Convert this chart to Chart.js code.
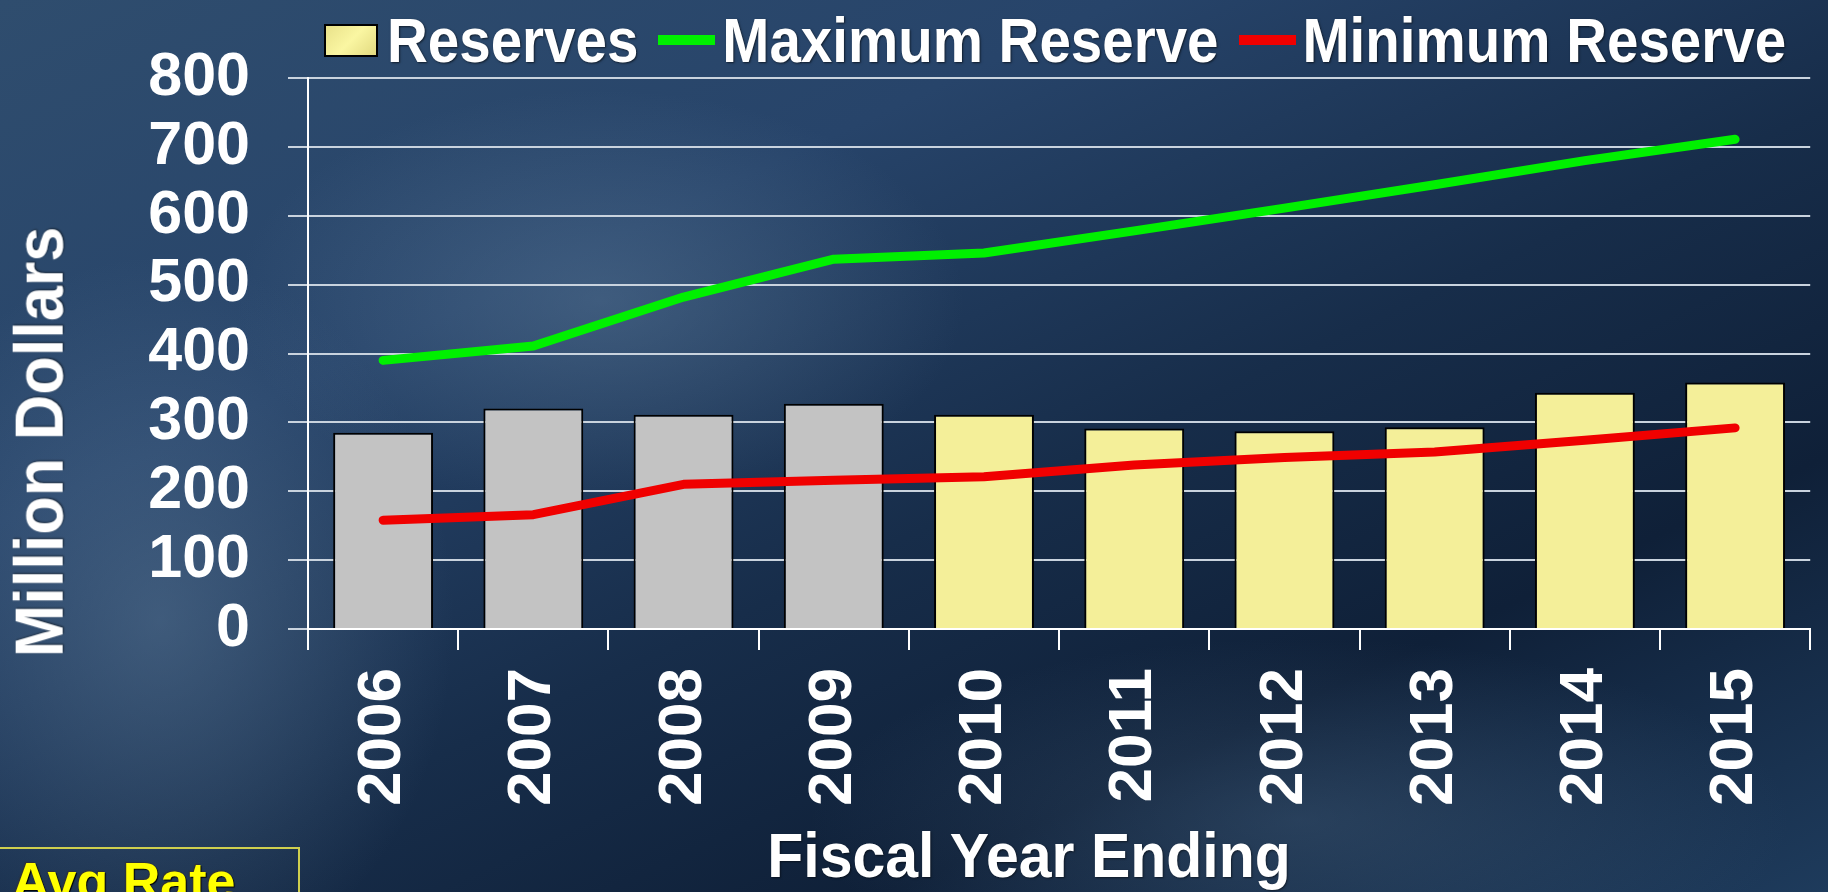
<!DOCTYPE html>
<html>
<head>
<meta charset="utf-8">
<script src="https://cdn.jsdelivr.net/npm/chart.js@4"></script>
<style>
  html, body { margin: 0; padding: 0; }
  body {
    width: 1828px; height: 892px; overflow: hidden; position: relative;
    font-family: "Liberation Sans", Arial, sans-serif;
    background:
      radial-gradient(ellipse 520px 300px at 600px 300px, rgba(95,125,155,0.45), rgba(95,125,155,0) 70%),
      radial-gradient(ellipse 420px 520px at 160px 620px, rgba(100,130,160,0.45), rgba(100,130,160,0) 70%),
      radial-gradient(ellipse 700px 260px at 1300px 820px, rgba(80,110,140,0.35), rgba(80,110,140,0) 70%),
      linear-gradient(155deg, #2f4d6e 0%, #27446a 30%, #172d4a 55%, #0f2038 75%, #1e3b5c 100%);
  }
  #chart { position: absolute; left: 0; top: 0; }
  .legend { position: absolute; left: 324px; top: 10px; display: flex; align-items: center; height: 60px;
    color: #fff; font-weight: bold; font-size: 56.5px; text-shadow: 1px 1px 2px rgba(0,0,0,0.6); white-space: nowrap; }
  .legend .txt { display: inline-block; transform: scaleY(1.12); }
  .legend .box { width: 50px; height: 29px; border: 2px solid #000; background: linear-gradient(135deg, #e9e28a, #faf6a2 50%, #e2da80); margin-right: 9px; }
  .legend .line { width: 57px; height: 10px; margin-right: 7px; }
  .legend .gap { width: 20px; }
  .axis-title { position: absolute; color: #fff; font-weight: bold; white-space: nowrap;
    text-shadow: 1px 1px 2px rgba(0,0,0,0.5); line-height: 1; }
  #ytitle { font-size: 63px; left: 39px; top: 442px; transform: translate(-50%, -50%) rotate(-90deg) scaleY(1.08); }
  #xtitle { font-size: 59px; left: 1029px; top: 856px; transform: translate(-50%, -50%) scaleY(1.08); }
  .avg { position: absolute; left: -2px; top: 847px; width: 302px; height: 60px; border: 2px solid #cfcf4e;
    color: #ffff00; font-weight: bold; font-size: 52px; line-height: 64px; padding-left: 12px; box-sizing: border-box;
    text-shadow: 1px 1px 1px #000, -1px -1px 1px #333; }
</style>
</head>
<body>
<div class="legend" id="legend"></div>
<canvas id="chart" width="1828" height="892"></canvas>
<div class="axis-title" id="ytitle">Million Dollars</div>
<div class="axis-title" id="xtitle">Fiscal Year Ending</div>
<div class="avg">Avg Rate</div>
<script>
const years = ["2006", "2007", "2008", "2009", "2010", "2011", "2012", "2013", "2014", "2015"];
const reserves = [285, 320, 311, 327, 311, 291, 287, 293, 343, 358];
const maxReserve = [390, 411, 482, 537, 546, 578, 611, 645, 680, 711];
const minReserve = [158, 166, 210, 216, 221, 238, 249, 257, 274, 292];
const yTicks = [0, 100, 200, 300, 400, 500, 600, 700, 800];
const lastActualYear = 2009;

const white = "#ffffff";
const gridColor = "#c9d3de";
const font = "'Liberation Sans', Arial, sans-serif";

const barColors = years.map((y) => (parseInt(y, 10) <= lastActualYear ? "#c3c3c3" : "#f4ef99"));

const seriesStyle = [
  { label: "Reserves", kind: "box" },
  { label: "Maximum Reserve", kind: "line", color: "#00f000" },
  { label: "Minimum Reserve", kind: "line", color: "#f00000" },
];

// html legend, tighter than the built in one
const legendEl = document.getElementById("legend");
seriesStyle.forEach((s, i) => {
  if (i > 0) legendEl.insertAdjacentHTML("beforeend", '<span class="gap"></span>');
  if (s.kind === "box") {
    legendEl.insertAdjacentHTML("beforeend", '<span class="box"></span>');
  } else {
    legendEl.insertAdjacentHTML("beforeend", `<span class="line" style="background:${s.color}"></span>`);
  }
  legendEl.insertAdjacentHTML("beforeend", `<span class="txt">${s.label}</span>`);
});

const ctx = document.getElementById("chart").getContext("2d");
new Chart(ctx, {
  type: "bar",
  data: {
    labels: years,
    datasets: [
      {
        type: "line",
        label: "Maximum Reserve",
        data: maxReserve,
        borderColor: "#00f000",
        borderWidth: 9,
        pointRadius: 0,
        tension: 0,
        borderCapStyle: "round",
        borderJoinStyle: "round",
        order: 0,
      },
      {
        type: "line",
        label: "Minimum Reserve",
        data: minReserve,
        borderColor: "#f00000",
        borderWidth: 9,
        pointRadius: 0,
        tension: 0,
        borderCapStyle: "round",
        borderJoinStyle: "round",
        order: 0,
      },
      {
        label: "Reserves",
        data: reserves,
        backgroundColor: barColors,
        borderColor: "#000000",
        borderWidth: 2,
        borderSkipped: "bottom",
        categoryPercentage: 1,
        barPercentage: 0.665,
        order: 1,
      },
    ],
  },
  options: {
    responsive: false,
    animation: false,
    layout: { padding: { top: 78, right: 10, left: 0, bottom: 0 } },
    plugins: {
      legend: { display: false },
      tooltip: { enabled: false },
    },
    scales: {
      x: {
        grid: { drawOnChartArea: false, color: white, lineWidth: 2, tickLength: 21, offset: true },
        border: { color: white, width: 2 },
        ticks: {
          color: white,
          font: { family: font, weight: "bold", size: 62 },
          minRotation: 90,
          maxRotation: 90,
          padding: 18,
        },
        afterFit: (scale) => { scale.height = 263; },
      },
      y: {
        min: 0,
        max: 800,
        grid: { color: gridColor, lineWidth: 2, tickLength: 20 },
        border: { color: white, width: 2 },
        afterBuildTicks: (scale) => { scale.ticks = yTicks.map((v) => ({ value: v })); },
        ticks: {
          color: white,
          autoSkip: false,
          font: { family: font, weight: "bold", size: 61, lineHeight: 0.9 },
          padding: 38,
        },
        afterFit: (scale) => { scale.width = 308; },
      },
    },
  },
});
</script>
</body>
</html>
